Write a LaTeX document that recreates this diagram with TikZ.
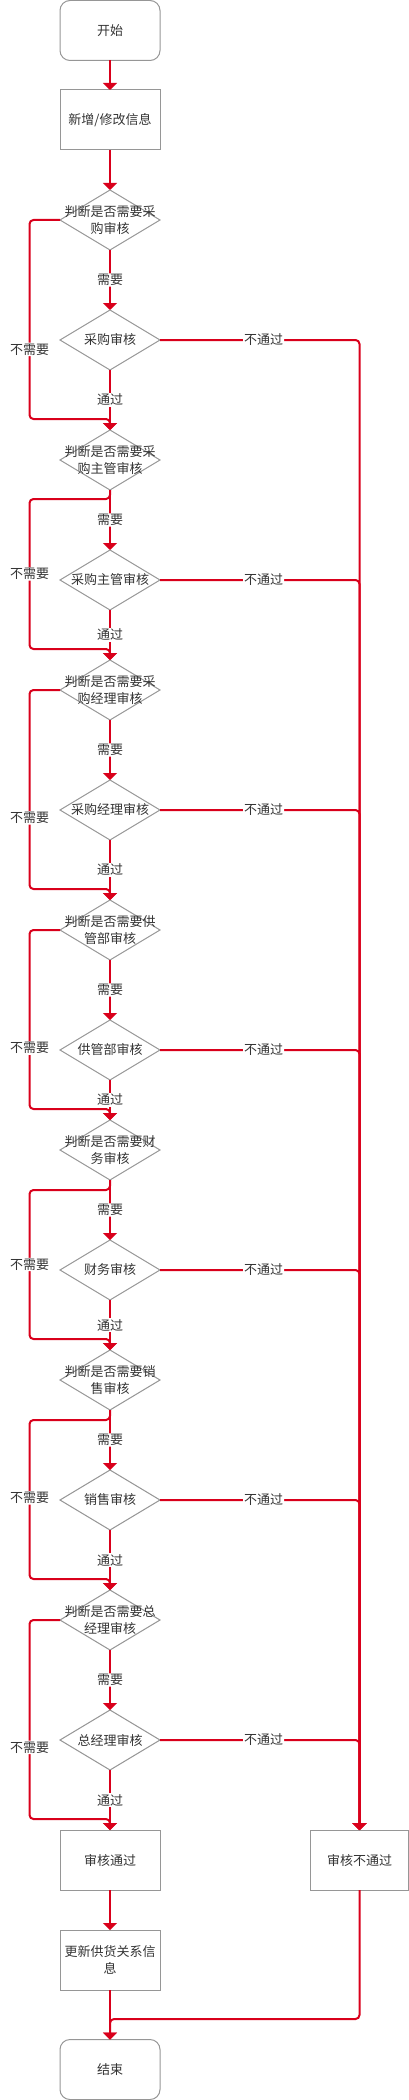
\documentclass[tikz,border=0pt]{standalone}
\usepackage{fontspec}
\setmainfont{Noto Sans CJK SC}
\usetikzlibrary{arrows.meta,shapes.geometric}
\definecolor{flowred}{RGB}{217,0,27}
\definecolor{shapegray}{RGB}{150,150,150}
\definecolor{txtgray}{RGB}{51,51,51}
\begin{document}
\begin{tikzpicture}[x=1pt,y=-1pt,
  txtfont/.style={text=txtgray, font=\fontsize{13}{16.5}\selectfont},
  base/.style={draw=shapegray, line width=1pt, inner sep=0pt, outer sep=0pt, txtfont, align=center, minimum width=100pt, minimum height=60pt},
  term/.style={base, rectangle, rounded corners=10pt},
  proc/.style={base, rectangle},
  dia/.style={base, diamond},
  dtext/.style={txtfont, align=center, inner sep=0pt},
  flow/.style={draw=flowred, line width=2pt, rounded corners=4pt, -{Triangle[width=14pt,length=7pt]}},
  lbl/.style={fill=white, txtfont, inner sep=1pt}
]
\useasboundingbox (0,0) rectangle (409,2100);

% rails and junctions
\coordinate (railL) at (29.5,0);
\coordinate (railR) at (359.5,0);

% nodes
\node[term] (start) at (110,30.5) {开始};
\node[proc] (edit) at (110,120) {新增/修改信息};

\node[dia] (d1) at (110,220) {};  \node[dtext] (t1) at (d1) {判断是否需要采\\购审核};
\node[dia] (r1) at (110,340) {};  \node[dtext] (u1) at (r1) {采购审核};
\node[dia] (d2) at (110,460) {};  \node[dtext] (t2) at (d2) {判断是否需要采\\购主管审核};
\node[dia] (r2) at (110,580) {};  \node[dtext] (u2) at (r2) {采购主管审核};
\node[dia] (d3) at (110,690) {};  \node[dtext] (t3) at (d3) {判断是否需要采\\购经理审核};
\node[dia] (r3) at (110,810) {};  \node[dtext] (u3) at (r3) {采购经理审核};
\node[dia] (d4) at (110,930) {};  \node[dtext] (t4) at (d4) {判断是否需要供\\管部审核};
\node[dia] (r4) at (110,1050) {}; \node[dtext] (u4) at (r4) {供管部审核};
\node[dia] (d5) at (110,1150) {}; \node[dtext] (t5) at (d5) {判断是否需要财\\务审核};
\node[dia] (r5) at (110,1270) {}; \node[dtext] (u5) at (r5) {财务审核};
\node[dia] (d6) at (110,1380) {}; \node[dtext] (t6) at (d6) {判断是否需要销\\售审核};
\node[dia] (r6) at (110,1500) {}; \node[dtext] (u6) at (r6) {销售审核};
\node[dia] (d7) at (110,1620) {}; \node[dtext] (t7) at (d7) {判断是否需要总\\经理审核};
\node[dia] (r7) at (110,1740) {}; \node[dtext] (u7) at (r7) {总经理审核};

\node[proc] (ok) at (110,1860) {审核通过};
\node[proc] (upd) at (110,1960) {更新供货关系信\\息};
\node[term] (end) at (110,2069.5) {结束};
\node[proc, minimum width=98pt] (ng) at (359.5,1860) {审核不通过};

% junction coordinates for the "not needed" branches
\coordinate (j1) at (110,419);
\coordinate (s2) at (110,499);
\coordinate (j2) at (110,649);
\coordinate (j3) at (110,889);
\coordinate (j4) at (110,1109);
\coordinate (s5) at (110,1190);
\coordinate (j5) at (110,1339);
\coordinate (s6) at (110,1420);
\coordinate (j6) at (110,1579);
\coordinate (j7) at (110,1819);
\coordinate (jend) at (110,2019);

% main line
\draw[flow] (start) -- (edit);
\draw[flow] (edit) -- (d1.north);
\foreach \i in {1,...,7}{
  \draw[flow] (d\i.south) -- node[lbl]{需要} (r\i.north);
}
\foreach \i/\n in {1/2,2/3,3/4,4/5,5/6,6/7}{
  \draw[flow] (r\i.south) -- node[lbl]{通过} (d\n.north);
}
\draw[flow] (r7.south) -- node[lbl]{通过} (ok.north);
\draw[flow] (ok) -- (upd);
\draw[flow] (upd) -- (end);

% rejected branches
\foreach \i in {1,...,7}{
  \draw[flow] (r\i.east) -- node[lbl,pos=0.52]{不通过} (r\i.east -| railR) -- (ng.north);
}
\draw[flow] (ng.south) -- (ng.south |- jend) -- (jend) -- (end.north);

% not-needed branches
\draw[flow] (d1.west) -- (d1.west -| railL) -- node[lbl,pos=0.65]{不需要} (railL |- j1) -- (j1) -- (d2.north);
\draw[flow] (d2.south) -- (s2) -- (s2 -| railL) -- node[lbl,pos=0.5]{不需要} (railL |- j2) -- (j2) -- (d3.north);
\draw[flow] (d3.west) -- (d3.west -| railL) -- node[lbl,pos=0.643]{不需要} (railL |- j3) -- (j3) -- (d4.north);
\draw[flow] (d4.west) -- (d4.west -| railL) -- node[lbl,pos=0.66]{不需要} (railL |- j4) -- (j4) -- (d5.north);
\draw[flow] (d5.south) -- (s5) -- (s5 -| railL) -- node[lbl,pos=0.5]{不需要} (railL |- j5) -- (j5) -- (d6.north);
\draw[flow] (d6.south) -- (s6) -- (s6 -| railL) -- node[lbl,pos=0.49]{不需要} (railL |- j6) -- (j6) -- (d7.north);
\draw[flow] (d7.west) -- (d7.west -| railL) -- node[lbl,pos=0.64]{不需要} (railL |- j7) -- (j7) -- (ok.north);
\end{tikzpicture}
\end{document}
